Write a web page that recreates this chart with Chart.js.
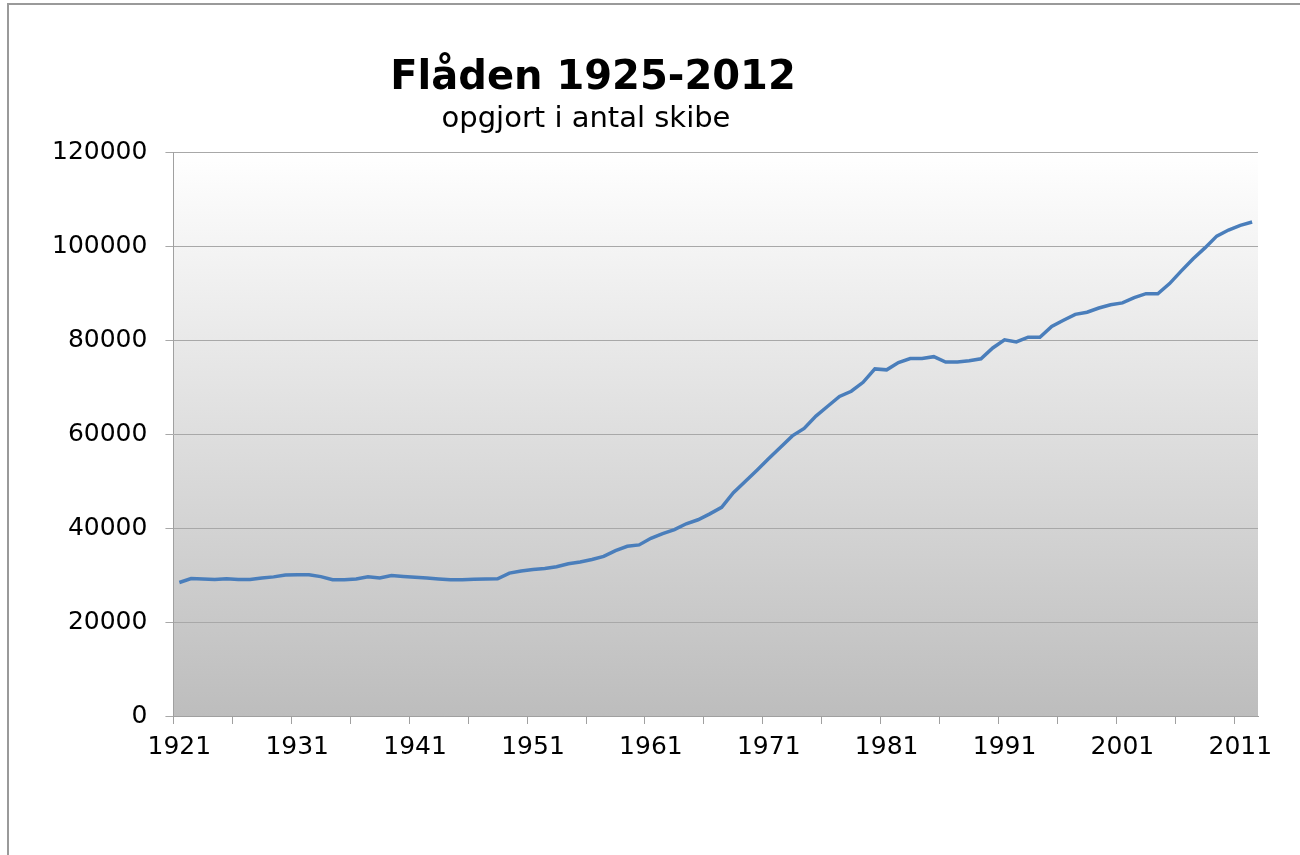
<!DOCTYPE html>
<html>
<head>
<meta charset="utf-8">
<script src="https://cdn.jsdelivr.net/npm/chart.js@4"></script>
<style>
  body { margin: 0; background: #fff; }
  #wrap { position: relative; width: 1300px; height: 855px; overflow: hidden; }
  #ramme { position: absolute; left: 7px; top: 3px; width: 1400px; height: 900px; border: 2px solid #9a9a9a; box-sizing: border-box; }
  #titel { position: absolute; left: 0; width: 1186px; top: 55px; text-align: center; font: bold 40px "DejaVu Sans"; line-height: 1; color: #000; }
  #undertitel { position: absolute; left: 0; width: 1172px; top: 103px; text-align: center; font: 29px "DejaVu Sans"; line-height: 1; color: #000; }
  canvas { position: absolute; left: 0; top: 0; }
</style>
</head>
<body>
<div id="wrap">
  <div id="ramme"></div>
  <canvas id="flaade" width="1300" height="855"></canvas>
  <div id="titel">Flåden 1925-2012</div>
  <div id="undertitel">opgjort i antal skibe</div>
</div>
<script>
// år (kategorier)
const aar = [
  1921, 1922, 1923, 1924, 1925, 1926, 1927, 1928, 1929, 1930,
  1931, 1932, 1933, 1934, 1935, 1936, 1937, 1938, 1939, 1940,
  1941, 1942, 1943, 1944, 1945, 1946, 1947, 1948, 1949, 1950,
  1951, 1952, 1953, 1954, 1955, 1956, 1957, 1958, 1959, 1960,
  1961, 1962, 1963, 1964, 1965, 1966, 1967, 1968, 1969, 1970,
  1971, 1972, 1973, 1974, 1975, 1976, 1977, 1978, 1979, 1980,
  1981, 1982, 1983, 1984, 1985, 1986, 1987, 1988, 1989, 1990,
  1991, 1992, 1993, 1994, 1995, 1996, 1997, 1998, 1999, 2000,
  2001, 2002, 2003, 2004, 2005, 2006, 2007, 2008, 2009, 2010,
  2011, 2012
];

// antal skibe pr. år (aflæst)
const antalSkibe = [
  28400, 29250, 29150, 29050, 29200, 29050, 29050, 29350, 29600, 30000,
  30050, 30050, 29650, 29000, 29000, 29150, 29600, 29350, 29900, 29700,
  29500, 29350, 29150, 29000, 29000, 29100, 29150, 29200, 30400, 30850,
  31150, 31400, 31750, 32400, 32750, 33300, 33950, 35200, 36100, 36400,
  37800, 38800, 39650, 40900, 41750, 43000, 44400, 47500, 49900, 52300,
  54800, 57200, 59600, 61200, 63800, 65900, 68000, 69100, 71000, 73850,
  73650, 75200, 76050, 76050, 76450, 75300, 75300, 75600, 76000, 78300,
  80050, 79600, 80600, 80600, 82900, 84200, 85450, 85900, 86800, 87500,
  87900, 89000, 89850, 89850, 92000, 94700, 97300, 99600, 102100, 103400,
  104400, 105100
];

// y-akse
const yMin = 0;
const yMax = 120000;
const yTrin = 20000;

// baggrund i plotområdet (hvid -> grå)
const plotBaggrund = {
  id: "plotBaggrund",
  beforeDraw(chart) {
    const { ctx, chartArea: a } = chart;
    const g = ctx.createLinearGradient(0, a.top, 0, a.bottom);
    g.addColorStop(0, "#ffffff");
    g.addColorStop(1, "#bdbdbd");
    ctx.save();
    ctx.fillStyle = g;
    ctx.fillRect(a.left, a.top, a.right - a.left, a.bottom - a.top);
    ctx.restore();
  }
};

const ctx = document.getElementById("flaade").getContext("2d");
new Chart(ctx, {
  type: "line",
  data: {
    labels: aar,
    datasets: [{
      label: "Antal skibe",
      data: antalSkibe,
      borderColor: "#4a7ebb",
      borderWidth: 3.5,
      pointRadius: 0,
      tension: 0,
      fill: false
    }]
  },
  options: {
    responsive: false,
    animation: false,
    layout: { padding: { top: 152, left: 34, right: 42, bottom: 85 } },
    plugins: {
      legend: { display: false },
      tooltip: { enabled: false }
    },
    scales: {
      x: {
        offset: true,
        grid: {
          offset: true,
          drawOnChartArea: false,
          drawTicks: true,
          tickLength: 8,
          color: c => (c.index % 5 === 0 ? "#a0a0a0" : "rgba(0,0,0,0)")
        },
        border: { color: "#a0a0a0" },
        ticks: {
          autoSkip: false,
          maxRotation: 0,
          minRotation: 0,
          padding: 8,
          color: "#000",
          font: { family: "DejaVu Sans", size: 25 },
          callback: function (v, i) { return i % 10 === 0 ? String(aar[i]) : ""; }
        }
      },
      y: {
        min: yMin,
        max: yMax,
        grid: { color: "#a8a8a8", tickLength: 8 },
        border: { color: "#a0a0a0" },
        ticks: {
          stepSize: yTrin,
          padding: 18,
          color: "#000",
          font: { family: "DejaVu Sans", size: 25 },
          callback: v => String(v)
        }
      }
    }
  },
  plugins: [plotBaggrund]
});
</script>
</body>
</html>
